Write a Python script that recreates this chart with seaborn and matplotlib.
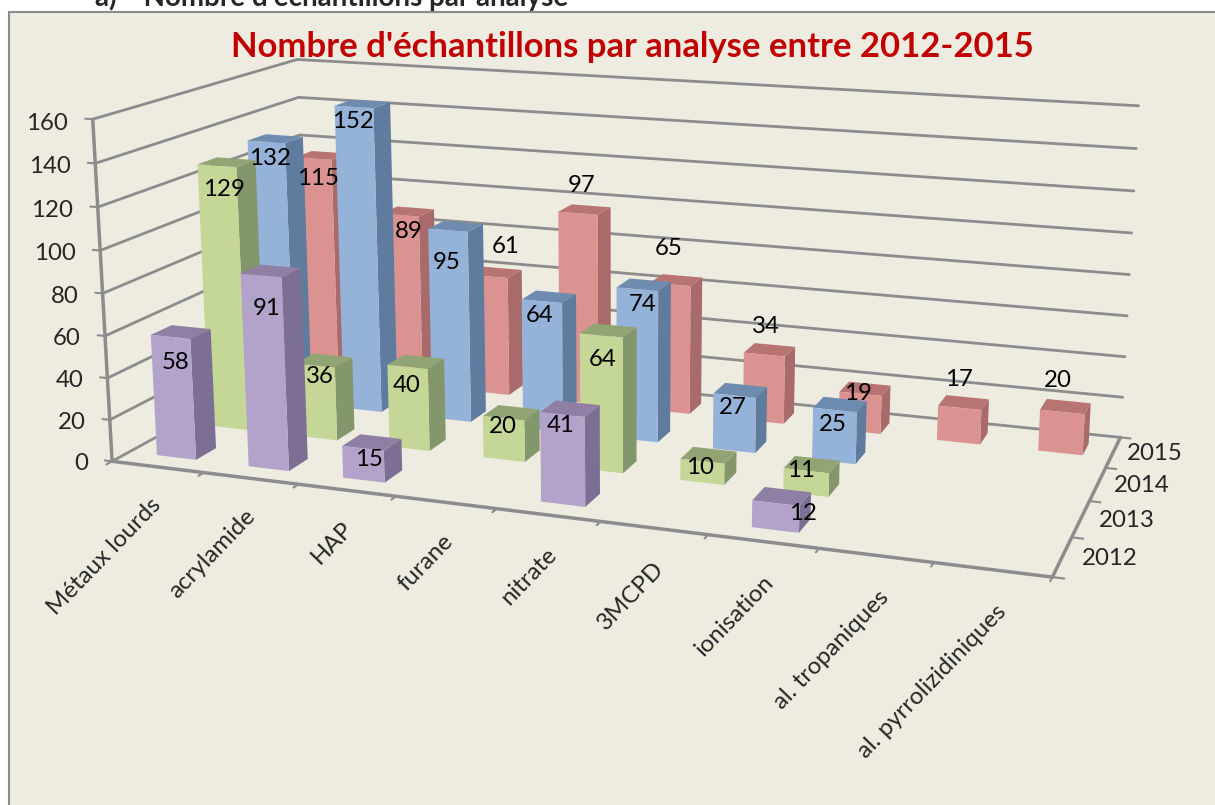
import matplotlib
matplotlib.use("Agg")
import matplotlib.pyplot as plt
import numpy as np
import seaborn as sns
from matplotlib.patches import Rectangle

categories = ["Métaux lourds", "acrylamide", "HAP", "furane", "nitrate", "3MCPD",
              "ionisation", "al. tropaniques", "al. pyrrolizidiniques"]
years = ["2012", "2013", "2014", "2015"]
# nan = no bar for that analysis
values_2012 = [58, 91, 15, np.nan, 41, np.nan, 12, np.nan, np.nan]
values_2013 = [129, 36, 40, 20, 64, 10, 11, np.nan, np.nan]
values_2014 = [132, 152, 95, 64, 74, 27, 25, np.nan, np.nan]
values_2015 = [115, 89, 61, 97, 65, 34, 19, 17, 20]
z_ticks = [0, 20, 40, 60, 80, 100, 120, 140, 160]

series = [values_2012, values_2013, values_2014, values_2015]
front = ["#B3A3CB", "#C4D796", "#95B3D9", "#DB9391"]
side = ["#7D6F94", "#84966B", "#5F7B9E", "#A86A6A"]
top = ["#8F7FA5", "#92A374", "#6E8CB0", "#B87373"]

# data labels were placed by hand in the original, so each has its own nudge
label_dz = [[-12, -15, -5, 0, -5, 0, -3, 0, 0],
            [-11, -5, -9, -4, -11, -3, 0, 0, 0],
            [-8, -7, -16, -7, -7, -6, -7, 0, 0],
            [-10, -8, 16, 14, 18, 14, 0, 14, 15]]
label_dx = [[0.06, 0.06, 0.08, 0, 0, 0, 0.27, 0, 0],
            [0.09, 0.07, 0.01, 0.01, 0.03, 0, -0.03, 0, 0],
            [0.05, 0, 0, 0, 0.08, 0, 0, 0, 0],
            [0.07, 0.11, 0.22, 0.06, 0, 0.03, 0, 0, -0.04]]

sns.set_style("white")
plt.rcParams["font.family"] = ["Lato", "DejaVu Sans"]
bg = "#EEECE1"
grid_col = "#8C8C8C"
fs = 17.3

fig = plt.figure(figsize=(12.15, 8.05), dpi=100)
# frame runs off the right and bottom of the picture
fig.patches.append(Rectangle((9, -5), 1220, 798, transform=None, fc=bg, ec="#8C8C8C", lw=1.5, zorder=-5))
fig.text(95 / 1215, 1 - 6 / 805, "a)    Nombre d'échantillons par analyse", fontsize=20,
         fontweight="bold", va="baseline", ha="left")
fig.text(632 / 1215, 1 - 47 / 805, "Nombre d'échantillons par analyse entre 2012-2015",
         fontsize=24.9, fontweight="bold", color="#C00000", ha="center", va="center")

ax = fig.add_axes([6.119 / 1215, 107.782 / 805, 1.0, 1.0], projection="3d", computed_zorder=False)
ax.patch.set_alpha(0)
ax.set_proj_type("persp", focal_length=0.526)
ax.view_init(elev=13.925, azim=-70.232)
ax.set_box_aspect((2.844, 1.274, 1.05), zoom=1.31)

bar_w = 0.43
bar_d = 0.38
hidden = (0, 0, 0, 0)
for i in range(3, -1, -1):
    row = series[i]
    for j, v in enumerate(row):
        if np.isnan(v):
            continue
        # per face: bottom, top, front, back, left, right
        colors = [hidden, top[i], front[i], hidden, hidden, side[i]]
        bar = ax.bar3d(j + 0.52 - bar_w / 2, i + 0.5 - bar_d / 2, 0, bar_w, bar_d, v, color=colors,
                       shade=False, linewidth=0, zorder=10 + (3 - i) * 10 + j)
        bar.set_clip_on(False)
        ax.text(j + 0.5 + label_dx[i][j], i + 0.31, v + label_dz[i][j], f"{v:.0f}",
                fontsize=fs, ha="center", va="center", color="black", zorder=100)

# grid and tick marks by hand, x and y ticks sit between the categories
for z in z_ticks:
    ax.plot([0, 0, 9], [0, 4, 4], [z, z, z], color=grid_col, lw=2, clip_on=False, zorder=1)
    ax.plot([-0.08, 0], [0, 0], [z, z], color=grid_col, lw=1.5, clip_on=False, zorder=1)
    ax.text(-0.27, 0, z - 2.5, str(z), fontsize=fs, ha="right", va="center", zorder=100)
for k in range(10):
    ax.plot([k, k], [0, -0.1], [0, 0], color=grid_col, lw=1.5, clip_on=False, zorder=1)
for k in range(5):
    ax.plot([9, 9.1], [k, k], [0, 0], color=grid_col, lw=1.5, clip_on=False, zorder=1)
for k, year in enumerate(years):
    ax.text(9.40, k + 0.5, 1.5, year, fontsize=fs, ha="center", va="center", zorder=100)

ax.set_xlim(0, 9)
ax.set_ylim(0, 4)
ax.set_zlim(0, 160)
ax.set_xticks(np.arange(9) + 0.70, categories, rotation=46, ha="right", fontsize=fs)
ax.set_yticks([])
ax.set_zticks([])
ax.tick_params(axis="x", pad=8)
ax.grid(False)
ax.zaxis.set_ticks_position("lower")
for axis in (ax.xaxis, ax.yaxis, ax.zaxis):
    axis.set_pane_color((0, 0, 0, 0))
    axis.pane.set_edgecolor((0, 0, 0, 0))
    axis.line.set_color(grid_col)
    axis.line.set_linewidth(2.5)
    axis.label.set_visible(False)
    axis.offsetText.set_visible(False)
ax.xaxis._axinfo["tick"]["inward_factor"] = 0
ax.xaxis._axinfo["tick"]["outward_factor"] = 0

fig.savefig("out.png", dpi=100)
